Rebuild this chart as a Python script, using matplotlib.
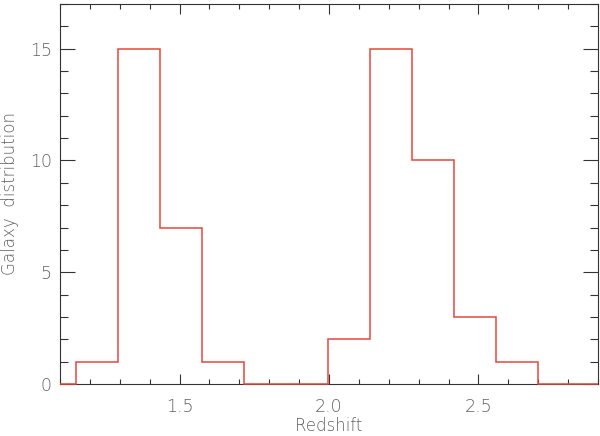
import numpy as np
import matplotlib
matplotlib.use('Agg')
import matplotlib.pyplot as plt
from matplotlib.ticker import MultipleLocator

# histogram bin edges (redshift) and galaxy counts
bin_edges = [1.153, 1.294, 1.434, 1.575, 1.715, 1.856, 1.996, 2.137, 2.277, 2.418, 2.558, 2.699]
counts = [1, 15, 7, 1, 0, 0, 2, 15, 10, 3, 1]
x_range = [1.1, 2.9]
y_range = [0, 17]

grey = '#606060'
plt.rcParams['font.family'] = 'DejaVu Sans'
plt.rcParams['font.weight'] = 'light'
plt.rcParams['axes.labelweight'] = 'light'

fig = plt.figure(figsize=(6, 4.36), dpi=100)
ax = fig.add_axes([0.1, 0.1193, 0.8967, 0.8715])

# pad with empty bins out to the plot edges, like IDL psym=10
edges = np.r_[x_range[0], bin_edges, x_range[1]]
vals = np.r_[0, counts, 0]
ax.stairs(vals, edges, color='#e8463a', lw=1.1, baseline=None, clip_on=False, zorder=3)

ax.set_xlim(x_range)
ax.set_ylim(y_range)

ax.xaxis.set_major_locator(MultipleLocator(0.5))
ax.xaxis.set_minor_locator(MultipleLocator(0.1))
ax.yaxis.set_major_locator(MultipleLocator(5))
ax.yaxis.set_minor_locator(MultipleLocator(1))
ax.xaxis.set_major_formatter(plt.FuncFormatter(lambda v, p: '%.1f' % v))

ax.tick_params(axis='x', which='major', direction='in', length=7, width=0.8, top=True,
               color='#333333', labelcolor=grey, labelsize=12.5, pad=10)
ax.tick_params(axis='x', which='minor', direction='in', length=3.5, width=0.8, top=True, color='#333333')
ax.tick_params(axis='y', which='major', direction='in', length=11, width=0.8, right=True,
               color='#333333', labelcolor=grey, labelsize=12.5, pad=6)
ax.tick_params(axis='y', which='minor', direction='in', length=5.5, width=0.8, right=True, color='#333333')

for s in ax.spines.values():
    s.set_color('#333333')
    s.set_linewidth(0.8)

ax.set_xlabel('Redshift', color=grey, fontsize=12, fontweight='light', labelpad=1)
ax.set_ylabel('Galaxy  distribution', color=grey, fontsize=12, fontweight='light', labelpad=8)

plt.savefig('out.png', dpi=100)
